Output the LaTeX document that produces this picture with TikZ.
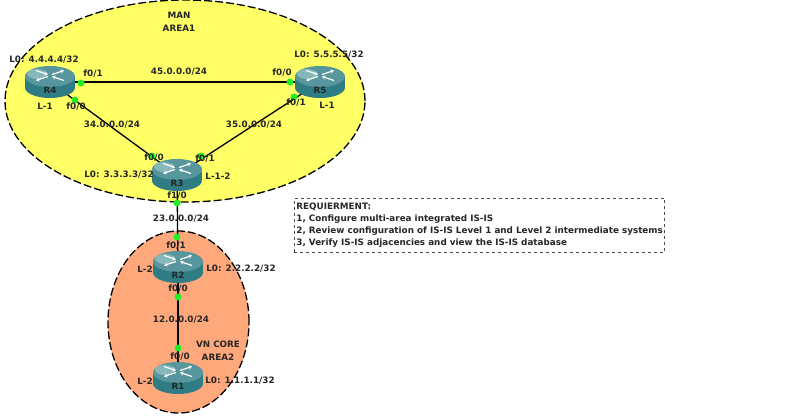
\documentclass[tikz,border=0pt]{standalone}
\usepackage{fontspec}
\setmainfont{DejaVu Sans}
\usetikzlibrary{shapes.geometric,arrows.meta,backgrounds}
\definecolor{areaone}{HTML}{FFFF66}
\definecolor{areatwo}{HTML}{FFA87C}
\definecolor{linkdot}{HTML}{22EE22}
\definecolor{routerdark}{HTML}{2F7C84}
\definecolor{routertop}{HTML}{57969D}
\definecolor{routerhi}{HTML}{A4CDD0}
\newcommand{\routername}[1]{\smash{\raisebox{-11.5pt}{#1}}}
\newcommand{\routerart}{
  \fill[routerdark] (0,5.5) circle[x radius=25pt, y radius=10.5pt];
  \fill[routerdark] (-25,-5.5) rectangle (25,5.5);
  \fill[routertop] (0,-5.5) circle[x radius=25pt, y radius=10.5pt];
  \fill[routerhi, opacity=0.6] (-13,-8) circle[x radius=10pt, y radius=5pt];
  \draw[routerarrow] (-14,-11.5) -- (-2,-7.5);
  \draw[routerarrow] (2,-7.5) -- (14,-11.5);
  \draw[routerarrow] (-2,-5.5) -- (-14,-1.5);
  \draw[routerarrow] (14,-1.5) -- (2,-5.5);
}
\tikzset{
  area/.style={draw=black, dash pattern=on 8pt off 3pt, line width=1.3pt, ellipse, inner sep=0pt},
  lbl/.style={font=\fontsize{8.8}{12}\selectfont\bfseries, inner sep=0pt, text=black!85},
  link/.style={draw=black, line width=1.3pt},
  linkport/.style={circle, fill=linkdot, inner sep=0pt, minimum size=7pt},
  routerarrow/.style={white, line width=1.2pt, -{Stealth[length=3.5pt,width=4pt]}},
  router/.style={rectangle, minimum width=50pt, minimum height=32pt, inner sep=0pt, draw=none,
    font=\fontsize{8.8}{12}\selectfont\bfseries, text=black!85},
}
\begin{document}
\begin{tikzpicture}[x=1pt, y=-1pt]
  \useasboundingbox (0,0) rectangle (800,418);
  % routers
  \foreach \name/\x/\y in {R4/50/82, R5/320/82, R3/177/175, R2/178/267, R1/178/378} {
    \begin{scope}[shift={(\x,\y)}]
      \routerart
    \end{scope}
    \node[router] (\name) at (\x,\y) {\routername{\name}};
  }
  \begin{scope}[on background layer]
    \fill[white] (0,0) rectangle (800,418);
    % areas
    \node[area, fill=areaone, minimum width=360pt, minimum height=202pt] (man) at (185,101) {};
    \node[area, fill=areatwo, minimum width=141pt, minimum height=182pt] (core) at (178.5,322) {};
    % links
    \draw[link] (R4.center) -- (R5.center);
    \draw[link] (R4.center) -- (R3.center);
    \draw[link] (R5.center) -- (R3.center);
    \draw[link] (R3.center) -- (R2.center);
    \draw[link] (R2.center) -- (R1.center);
  \end{scope}
  % ports
  \foreach \name/\x/\y in {pa/81/83, pb/75/100, pc/290/82, pd/294/97, pe/152/156, pf/201/156, pg/177/203, ph/177/237, pi/178/297, pj/178/348} {
    \node[linkport] (\name) at (\x,\y) {};
  }
  % addresses and port names
  \foreach \name/\x/\y/\txt in {
    tman/179/15/MAN, tareaa/179/28/AREA1, tcore/218/344/VN CORE, tareab/218/357/AREA2,
    lfour/44/60/{L0: 4.4.4.4/32}, lfive/329/55/{L0: 5.5.5.5/32}, lthree/119/175/{L0: 3.3.3.3/32},
    ltwo/241/269/{L0: 2.2.2.2/32}, lone/240/381/{L0: 1.1.1.1/32},
    na/179/72/{45.0.0.0/24}, nb/112/125/{34.0.0.0/24}, nc/254/125/{35.0.0.0/24},
    nd/181/219/{23.0.0.0/24}, ne/181/320/{12.0.0.0/24},
    fa/93/74/{f0/1}, fb/76/107/{f0/0}, fc/282/73/{f0/0}, fd/296/103/{f0/1},
    fe/154/158/{f0/0}, ff/205/159/{f0/1}, fg/177/196/{f1/0}, fh/176/246/{f0/1},
    fi/178/289/{f0/0}, fj/180/357/{f0/0},
    la/45/106/L-1, lb/327/105/L-1, lc/218/176/L-1-2, ld/145/269/L-2, le/145/381/L-2} {
    \node[lbl] (\name) at (\x,\y) {\txt};
  }
  % requirements
  \node[lbl, draw=black!70, dashed, fill=white, line width=0.8pt, align=left, anchor=north west,
    inner xsep=2pt, inner ysep=5pt] (req) at (294,197.5)
    {REQUIERMENT:\\1, Configure multi-area integrated IS-IS\\2, Review configuration of IS-IS Level 1 and Level 2 intermediate systems\\3, Verify IS-IS adjacencies and view the IS-IS database};
\end{tikzpicture}
\end{document}
